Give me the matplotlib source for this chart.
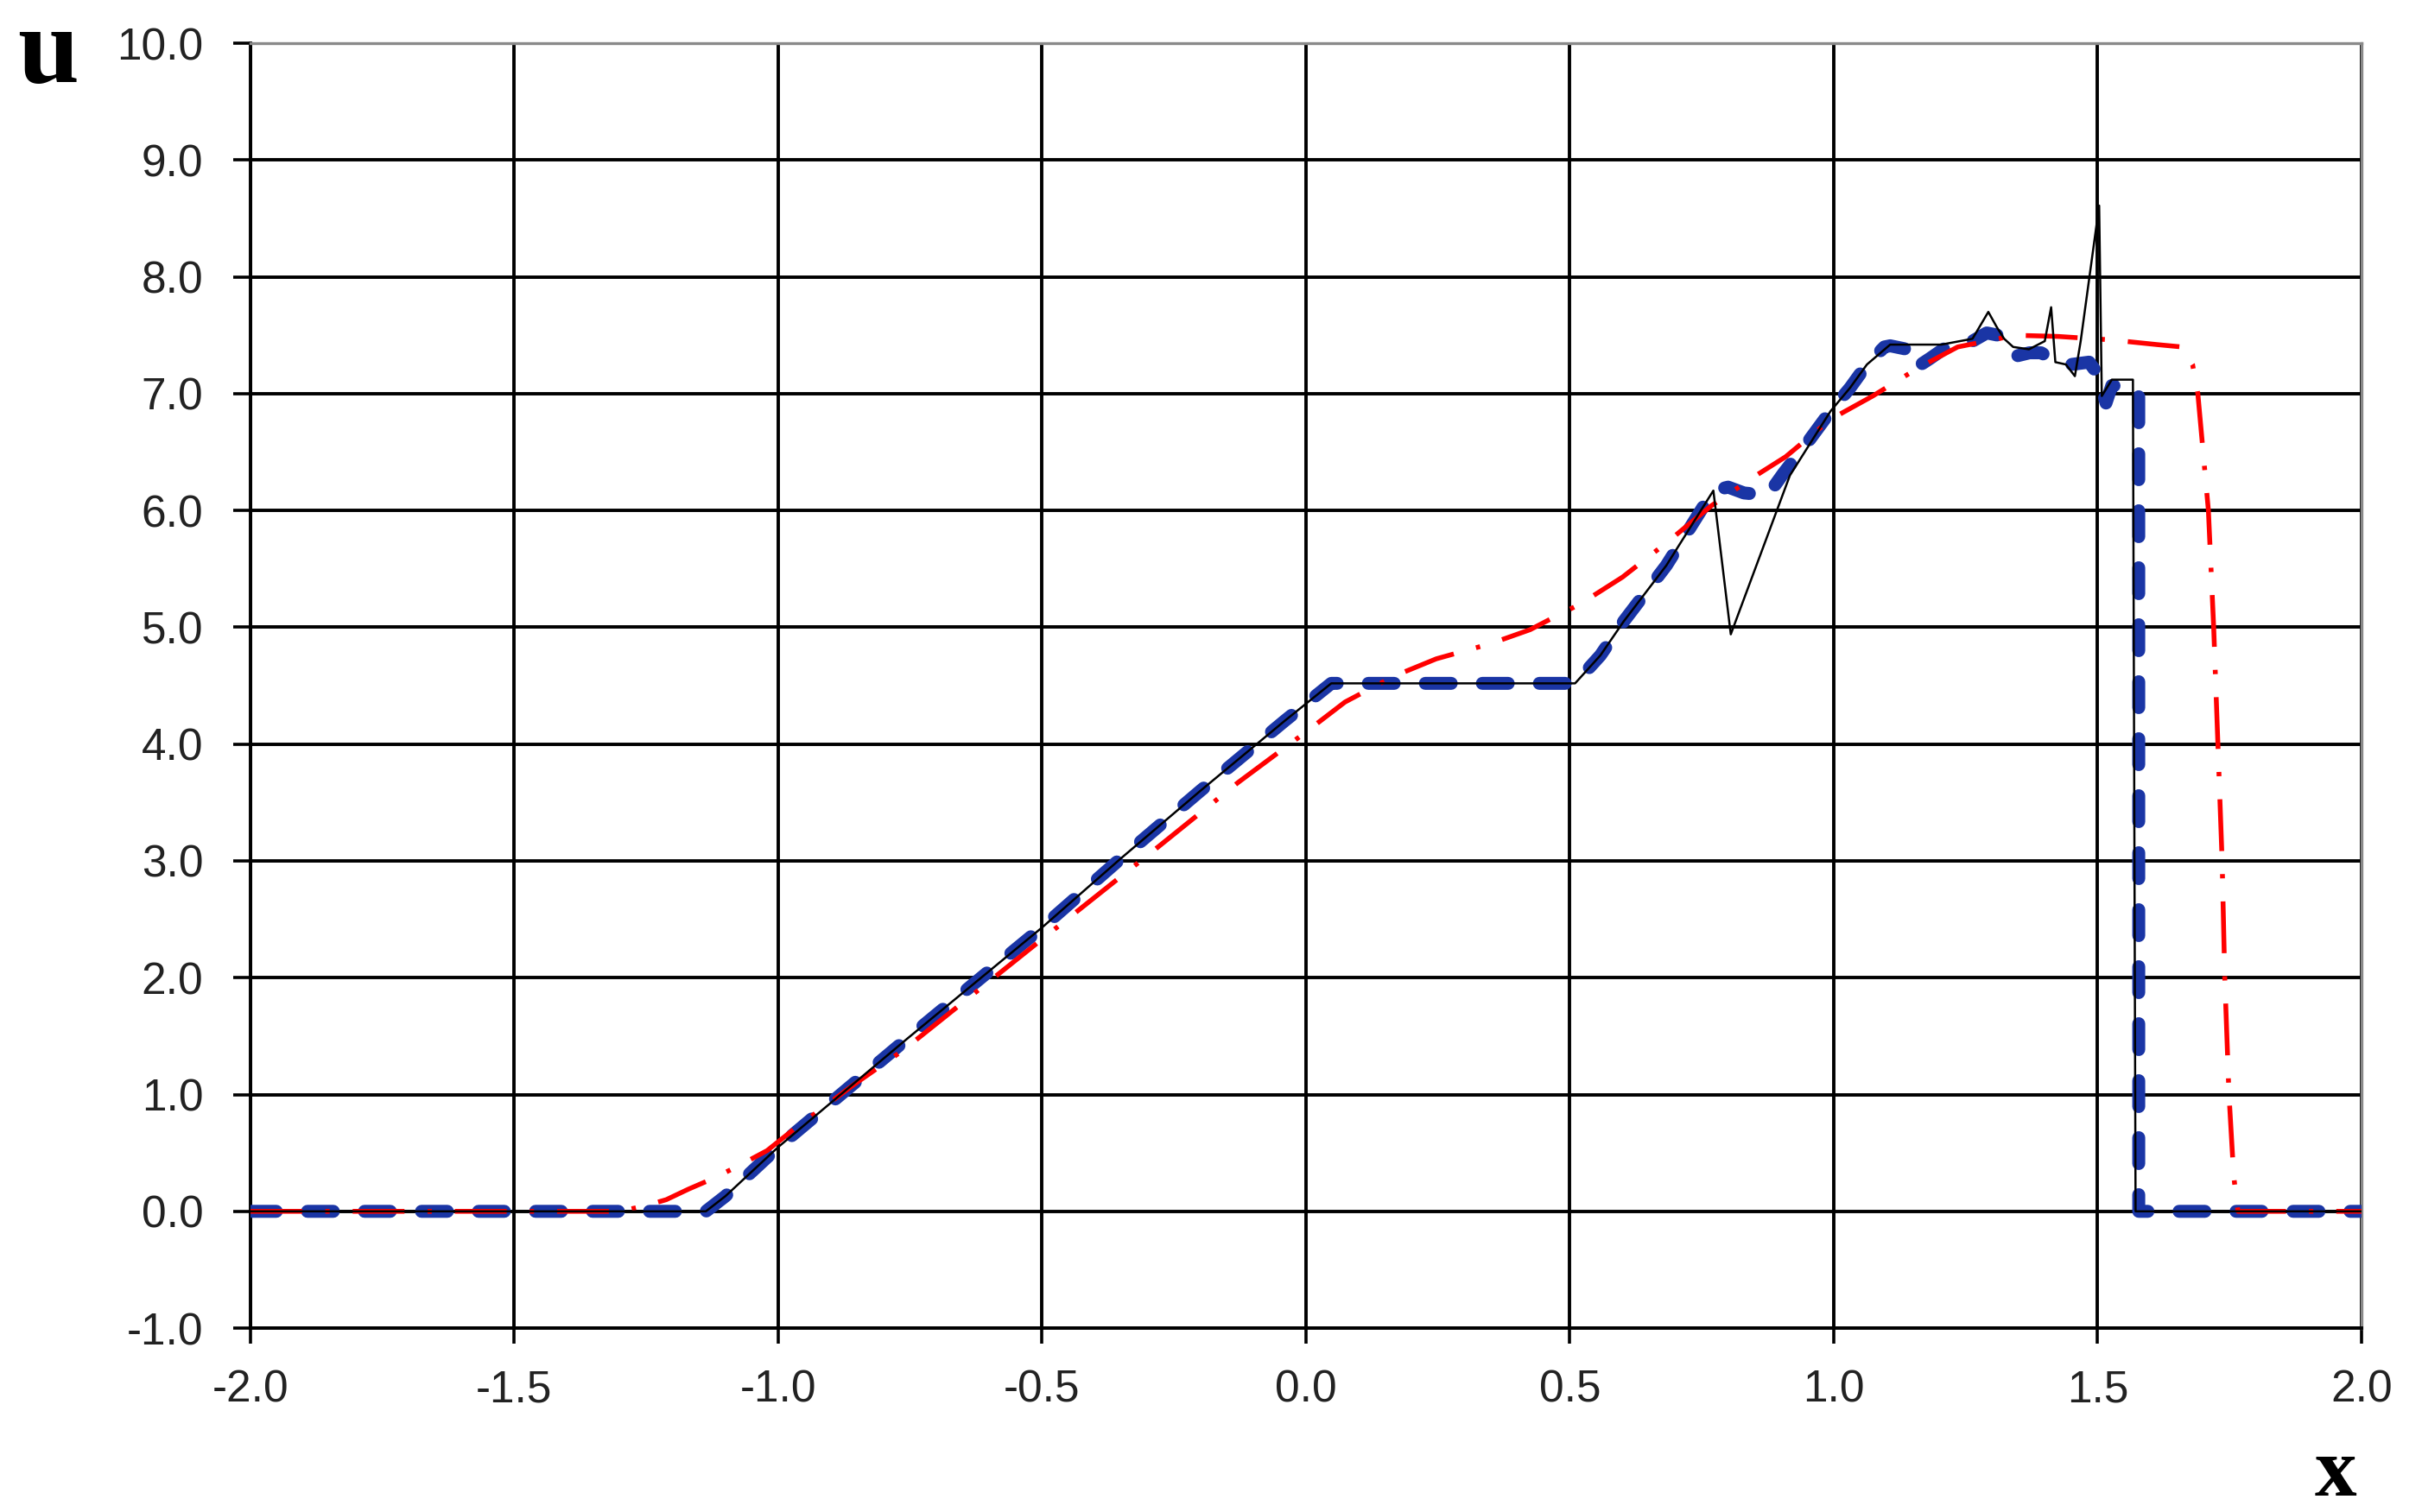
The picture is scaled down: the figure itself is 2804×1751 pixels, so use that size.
import matplotlib
matplotlib.use("Agg")
import matplotlib.pyplot as plt
import numpy as np

# ---- data ----
x_blue = [-2.0, -1.137, -1.10, -1.05, -1.0, -0.9, -0.755, -0.5, -0.351, -0.2, -0.04, 0.048,
          0.51, 0.558, 0.602, 0.683, 0.772, 0.80, 0.83, 0.875, 0.905, 0.95, 0.994, 1.031,
          1.063, 1.096, 1.107, 1.139, 1.155, 1.182, 1.214, 1.263, 1.29, 1.312, 1.328, 1.344,
          1.371, 1.393, 1.425, 1.45, 1.484, 1.50, 1.516, 1.527, 1.565, 1.578, 1.578, 2.0]
u_blue = [0.0, 0.0, 0.13, 0.34, 0.55, 0.93, 1.48, 2.43, 3.02, 3.60, 4.20, 4.52,
          4.52, 4.76, 5.05, 5.53, 6.17, 6.20, 6.15, 6.13, 6.32, 6.58, 6.85, 7.05,
          7.25, 7.40, 7.41, 7.38, 7.22, 7.30, 7.40, 7.45, 7.52, 7.50, 7.42, 7.32,
          7.35, 7.35, 7.27, 7.25, 7.27, 7.17, 6.92, 7.07, 7.05, 7.02, 0.0, 0.0]

x_black = [-2.0, -1.137, -1.10, -1.05, -1.0, -0.9, -0.755, -0.5, -0.351, -0.2, -0.04, 0.048,
           0.51, 0.558, 0.602, 0.683, 0.772, 0.805, 0.917, 0.994, 1.031, 1.063, 1.107,
           1.204, 1.263, 1.293, 1.309, 1.323, 1.34, 1.37, 1.40, 1.412, 1.42, 1.44, 1.457,
           1.468, 1.503, 1.508, 1.527, 1.567, 1.572, 2.0]
u_black = [0.0, 0.0, 0.13, 0.34, 0.55, 0.93, 1.48, 2.43, 3.02, 3.60, 4.20, 4.52,
           4.52, 4.76, 5.05, 5.53, 6.17, 4.94, 6.30, 6.85, 7.05, 7.25, 7.42,
           7.42, 7.47, 7.70, 7.57, 7.47, 7.40, 7.38, 7.45, 7.74, 7.27, 7.25, 7.15,
           7.45, 8.61, 6.98, 7.12, 7.12, 0.0, 0.0]

x_red = [-2.0, -1.30, -1.25, -1.212, -1.17, -1.129, -1.079, -1.021, -0.971, -0.855, -0.763,
         -0.5, -0.28, -0.129, -0.004, 0.074, 0.166, 0.247, 0.35, 0.425, 0.476, 0.52, 0.60,
         0.685, 0.768, 0.853, 0.909, 0.994, 1.074, 1.16, 1.235, 1.29, 1.344, 1.425, 1.527,
         1.613, 1.66, 1.68, 1.69, 1.70, 1.71, 1.72, 1.728, 1.736, 1.741, 1.749, 1.758,
         1.766, 2.0]
u_red = [0.0, 0.0, 0.05, 0.10, 0.19, 0.27, 0.38, 0.52, 0.70, 1.09, 1.38,
         2.33, 3.12, 3.67, 4.09, 4.36, 4.58, 4.73, 4.86, 4.98, 5.10, 5.20, 5.43,
         5.73, 6.04, 6.30, 6.46, 6.78, 6.98, 7.22, 7.40, 7.45, 7.50, 7.49, 7.46,
         7.42, 7.40, 7.25, 7.00, 6.50, 6.00, 5.00, 4.00, 3.00, 2.00, 1.00, 0.30,
         0.0, 0.0]

x_ticks = [-2.0, -1.5, -1.0, -0.5, 0.0, 0.5, 1.0, 1.5, 2.0]
y_ticks = [-1.0, 0.0, 1.0, 2.0, 3.0, 4.0, 5.0, 6.0, 7.0, 8.0, 9.0, 10.0]

# ---- figure ----
fig = plt.figure(figsize=(14.02, 8.755), dpi=200)
ax = fig.add_axes([0.1034, 0.1216, 0.9750 - 0.1034, 0.9714 - 0.1216])

ax.set_xlim(-2.0, 2.0)
ax.set_ylim(-1.0, 10.0)
ax.set_xticks(x_ticks)
ax.set_yticks(y_ticks)
ax.set_xticklabels([f"{v:.1f}" for v in x_ticks])
ax.set_yticklabels([f"{v:.1f}" for v in y_ticks])

ax.grid(True, color="black", linewidth=1.4, zorder=0)
ax.set_axisbelow(True)

for side in ["left", "bottom"]:
    ax.spines[side].set_color("black")
    ax.spines[side].set_linewidth(1.4)
for side in ["top", "right"]:
    ax.spines[side].set_color("#8a8a8a")
    ax.spines[side].set_linewidth(1.2)

ax.tick_params(axis="y", direction="out", length=7.2, width=1.3, pad=12.5,
               labelsize=18.5, labelcolor="#222222", color="black")
ax.tick_params(axis="x", direction="out", length=6.5, width=1.3, pad=10.5,
               labelsize=18.5, labelcolor="#222222", color="black")
for lab in ax.get_xticklabels() + ax.get_yticklabels():
    lab.set_family(["Liberation Sans", "DejaVu Sans"])

# blue thick dashed
ax.plot(x_blue, u_blue, color="#1a35a5", linewidth=5.4,
        linestyle=(0, (2.0, 2.4)), dash_capstyle="round", zorder=3)
# red dash-dot
ax.plot(x_red, u_red, color="#ff0000", linewidth=2.0,
        linestyle=(0, (10.8, 4.8, 0.9, 4.8)), zorder=4)
# black thin solid
ax.plot(x_black, u_black, color="black", linewidth=0.9, zorder=5)

fig.text(0.020, 0.9634, "u", fontsize=46, fontweight="bold",
         family=["Liberation Serif", "DejaVu Serif"], ha="center", va="center")
fig.text(0.9643, 0.0245, "x", fontsize=35, fontweight="bold",
         family=["Liberation Serif", "DejaVu Serif"], ha="center", va="center")

fig.savefig("out.png", dpi=200, facecolor="white")
